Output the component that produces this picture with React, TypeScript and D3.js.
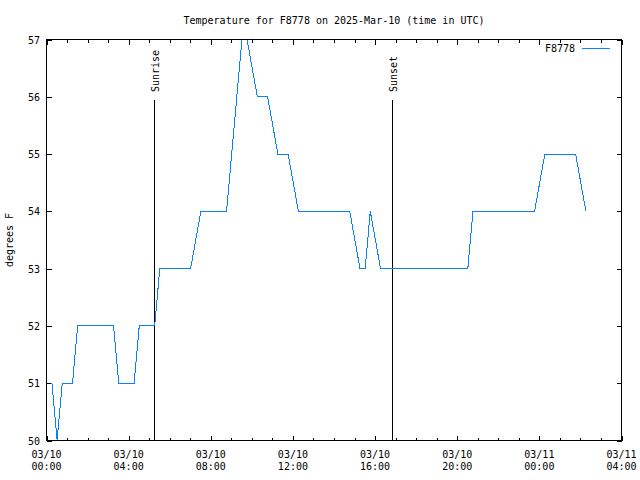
import React from "react";
import * as d3 from "d3";

const TITLE = "Temperature for F8778 on 2025-Mar-10 (time in UTC)";
const SERIES_NAME = "F8778";
const Y_LABEL = "degrees F";

const times: string[] = [
  "2025-03-10T00:16Z", "2025-03-10T00:31Z", "2025-03-10T00:46Z", "2025-03-10T01:16Z",
  "2025-03-10T01:31Z", "2025-03-10T03:16Z", "2025-03-10T03:31Z", "2025-03-10T04:16Z",
  "2025-03-10T04:31Z", "2025-03-10T05:16Z", "2025-03-10T05:31Z", "2025-03-10T07:01Z",
  "2025-03-10T07:31Z", "2025-03-10T08:46Z", "2025-03-10T09:31Z", "2025-03-10T09:46Z",
  "2025-03-10T10:16Z", "2025-03-10T10:46Z", "2025-03-10T11:16Z", "2025-03-10T11:46Z",
  "2025-03-10T12:16Z", "2025-03-10T14:46Z", "2025-03-10T15:16Z", "2025-03-10T15:31Z",
  "2025-03-10T15:46Z", "2025-03-10T16:16Z", "2025-03-10T20:31Z", "2025-03-10T20:46Z",
  "2025-03-10T23:46Z", "2025-03-11T00:16Z", "2025-03-11T01:46Z", "2025-03-11T02:16Z",
];
const temps: number[] = [
  51, 50, 51, 51,
  52, 52, 51, 51,
  52, 52, 53, 53,
  54, 54, 57, 57,
  56, 56, 55, 55,
  54, 54, 53, 53,
  54, 53, 53, 54,
  54, 55, 55, 54,
];

const domainStart = "2025-03-10T00:00Z";
const domainEnd = "2025-03-11T04:00Z";
const yTicks: number[] = [50, 51, 52, 53, 54, 55, 56, 57];
const sunEvents: { label: string; time: string }[] = [
  { label: "Sunrise", time: "2025-03-10T05:14Z" },
  { label: "Sunset", time: "2025-03-10T16:49Z" },
];

const FONT = "'DejaVu Sans Mono', monospace";
const BLUE = "#0a80ff";

export default function App() {
  const left = 46.5, right = 621.5, top = 39.5, bottom = 440.5;
  const x = d3.scaleUtc().domain([new Date(domainStart), new Date(domainEnd)]).range([left, right]);
  const y = d3.scaleLinear().domain([50, 57]).range([bottom, top]);
  const data = times.map((t, i) => ({ t: new Date(t), v: temps[i] }));
  const line = d3.line<{ t: Date; v: number }>().x((d) => x(d.t)).y((d) => y(d.v));
  const major = x.ticks(d3.utcHour.every(4)!);
  const minor = x.ticks(d3.utcHour.every(1)!);
  const fmtDate = d3.utcFormat("%m/%d");
  const fmtTime = d3.utcFormat("%H:%M");

  return (
    <svg width={640} height={480} style={{ position: "absolute", left: 0, top: 0, background: "#fff" }} fontFamily={FONT} fontSize={10}>
      <rect x={0} y={0} width={640} height={480} fill="#fff" />
      <defs>
        <clipPath id="plot">
          <rect x={left} y={top - 1} width={right - left} height={bottom - top + 1} />
        </clipPath>
      </defs>
      <text x={(left + right) / 2} y={24} textAnchor="middle">{TITLE}</text>
      {minor.map((d, i) => (
        <g key={"mi" + i} stroke="#000" shapeRendering="crispEdges">
          <line x1={Math.round(x(d)) + 0.5} x2={Math.round(x(d)) + 0.5} y1={bottom} y2={bottom - 3} />
          <line x1={Math.round(x(d)) + 0.5} x2={Math.round(x(d)) + 0.5} y1={top} y2={top + 3} />
        </g>
      ))}
      {major.map((d, i) => (
        <g key={"ma" + i}>
          <line x1={Math.round(x(d)) + 0.5} x2={Math.round(x(d)) + 0.5} y1={bottom} y2={bottom - 5} stroke="#000" shapeRendering="crispEdges" />
          <line x1={Math.round(x(d)) + 0.5} x2={Math.round(x(d)) + 0.5} y1={top} y2={top + 5} stroke="#000" shapeRendering="crispEdges" />
          <text x={x(d)} y={458} textAnchor="middle">{fmtDate(d)}</text>
          <text x={x(d)} y={470} textAnchor="middle">{fmtTime(d)}</text>
        </g>
      ))}
      {yTicks.map((v) => (
        <g key={"y" + v}>
          <line x1={left} x2={left + 5} y1={Math.round(y(v)) + 0.5} y2={Math.round(y(v)) + 0.5} stroke="#000" shapeRendering="crispEdges" />
          <line x1={right} x2={right - 5} y1={Math.round(y(v)) + 0.5} y2={Math.round(y(v)) + 0.5} stroke="#000" shapeRendering="crispEdges" />
          <text x={40} y={y(v) + 4} textAnchor="end">{v}</text>
        </g>
      ))}
      <text transform={`translate(13,240) rotate(-90)`} textAnchor="middle">{Y_LABEL}</text>
      {sunEvents.map((s) => {
        const sx = Math.round(x(new Date(s.time))) + 0.5;
        return (
          <g key={s.label}>
            <line x1={sx} x2={sx} y1={99.5} y2={bottom} stroke="#000" shapeRendering="crispEdges" />
            <text transform={`translate(${sx + 4.5},92) rotate(-90)`} textAnchor="start">{s.label}</text>
          </g>
        );
      })}
      <path d={line(data) || ""} fill="none" stroke={BLUE} strokeWidth={1} clipPath="url(#plot)" shapeRendering="crispEdges" />
      <text x={575} y={52} textAnchor="end">{SERIES_NAME}</text>
      <line x1={582} x2={610} y1={48.5} y2={48.5} stroke={BLUE} shapeRendering="crispEdges" />
      <rect x={left} y={top} width={right - left} height={bottom - top} fill="none" stroke="#000" shapeRendering="crispEdges" />
    </svg>
  );
}
